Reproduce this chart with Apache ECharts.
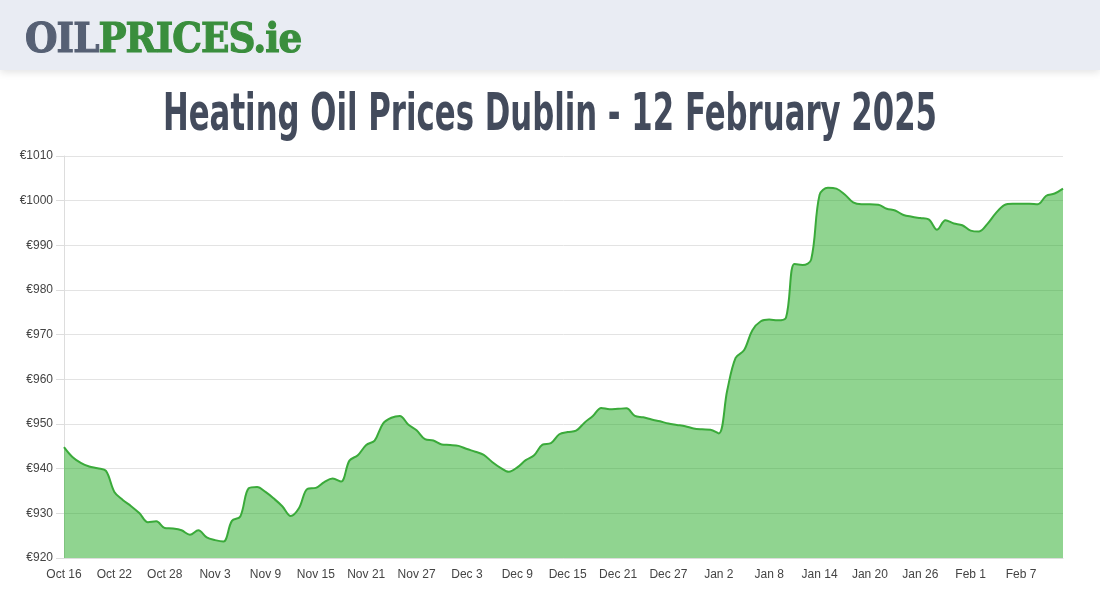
<!DOCTYPE html>
<html>
<head>
<meta charset="utf-8">
<script src="https://cdn.jsdelivr.net/npm/echarts@6/dist/echarts.min.js"></script>
<style>
  html, body { margin: 0; padding: 0; background: #ffffff; }
  #header {
    position: absolute; left: 0; top: 0; width: 1100px; height: 70px;
    background: #e9ecf3; box-shadow: 0 2px 8px rgba(0,0,0,0.12); z-index: 2;
  }
  #logo {
    position: absolute; left: 25px; top: 18px;
    font-family: "DejaVu Serif", serif; font-weight: bold; font-size: 41px;
    letter-spacing: -1px; line-height: 41px; white-space: nowrap;
    transform-origin: left center; transform: scaleX(0.91);
    -webkit-text-stroke: 1.2px currentColor;
  }
  #logo .a { color: #566074; }
  #logo .b { color: #3a8e3d; }
  #chart { position: absolute; left: 0; top: 0; width: 1100px; height: 600px; z-index: 1; }
</style>
</head>
<body>
<div id="chart"></div>
<div id="header"><div id="logo"><span class="a">OIL</span><span class="b">PRICES.ie</span></div></div>
<script>
const titleText = "Heating Oil Prices Dublin - 12 February 2025";

const dates = [
  "Oct 16","Oct 17","Oct 18","Oct 19","Oct 20","Oct 21","Oct 22","Oct 23","Oct 24","Oct 25","Oct 26","Oct 27","Oct 28","Oct 29","Oct 30","Oct 31",
  "Nov 1","Nov 2","Nov 3","Nov 4","Nov 5","Nov 6","Nov 7","Nov 8","Nov 9","Nov 10","Nov 11","Nov 12","Nov 13","Nov 14","Nov 15","Nov 16","Nov 17","Nov 18","Nov 19","Nov 20","Nov 21","Nov 22","Nov 23","Nov 24","Nov 25","Nov 26","Nov 27","Nov 28","Nov 29","Nov 30",
  "Dec 1","Dec 2","Dec 3","Dec 4","Dec 5","Dec 6","Dec 7","Dec 8","Dec 9","Dec 10","Dec 11","Dec 12","Dec 13","Dec 14","Dec 15","Dec 16","Dec 17","Dec 18","Dec 19","Dec 20","Dec 21","Dec 22","Dec 23","Dec 24","Dec 25","Dec 26","Dec 27","Dec 28","Dec 29","Dec 30","Dec 31",
  "Jan 1","Jan 2","Jan 3","Jan 4","Jan 5","Jan 6","Jan 7","Jan 8","Jan 9","Jan 10","Jan 11","Jan 12","Jan 13","Jan 14","Jan 15","Jan 16","Jan 17","Jan 18","Jan 19","Jan 20","Jan 21","Jan 22","Jan 23","Jan 24","Jan 25","Jan 26","Jan 27","Jan 28","Jan 29","Jan 30","Jan 31",
  "Feb 1","Feb 2","Feb 3","Feb 4","Feb 5","Feb 6","Feb 7","Feb 8","Feb 9","Feb 10","Feb 11","Feb 12"
];

const prices = [
  944.8, 942.6, 941.3, 940.5, 940.1, 939.5, 934.8, 933.0, 931.6, 930.0,
  928.0, 928.2, 926.7, 926.6, 926.2, 925.2, 926.2, 924.6, 924.0, 923.7,
  928.3, 929.3, 935.6, 935.9, 934.8, 933.3, 931.6, 929.4, 931.2, 935.5,
  935.7, 937.0, 937.8, 937.1, 941.8, 943.0, 945.3, 946.3, 950.1, 951.4,
  951.8, 949.9, 948.6, 946.6, 946.3, 945.4, 945.3, 945.1, 944.4, 943.8,
  943.1, 941.5, 940.2, 939.3, 940.3, 941.9, 943.0, 945.4, 945.7, 947.7,
  948.2, 948.5, 950.3, 951.8, 953.6, 953.3, 953.4, 953.5, 951.8, 951.5,
  951.0, 950.6, 950.1, 949.8, 949.5, 949.0, 948.8, 948.7, 947.9, 957.5,
  964.8, 966.5, 971.0, 973.0, 973.4, 973.2, 973.8, 985.8, 985.6, 986.8,
  1001.3, 1002.9, 1002.7, 1001.4, 999.6, 999.2, 999.2, 999.1, 998.2, 997.8,
  996.8, 996.4, 996.1, 995.8, 993.5, 995.6, 994.9, 994.5, 993.3, 993.1,
  994.8, 997.2, 999.0, 999.3, 999.3, 999.3, 999.2, 1001.1, 1001.6, 1002.7
];

const yMin = 920, yMax = 1010, yStep = 10;

// title: condensed look obtained by horizontal scaling to the reference width
const titleFont = 'bold 52px "DejaVu Sans", sans-serif';
const mctx = document.createElement('canvas').getContext('2d');
mctx.font = titleFont;
const titleScale = 774 / mctx.measureText(titleText).width;

const chart = echarts.init(document.getElementById('chart'), null, { renderer: 'canvas' });
chart.setOption({
  animation: false,
  backgroundColor: '#ffffff',
  graphic: [{
    type: 'text',
    x: 550,
    y: 116,
    scaleX: titleScale,
    scaleY: 1,
    style: {
      text: titleText,
      font: titleFont,
      fill: '#434b5c',
      align: 'center',
      verticalAlign: 'middle'
    }
  }],
  grid: { left: 64, right: 37, top: 156, bottom: 42 },
  xAxis: {
    type: 'category',
    data: dates,
    boundaryGap: false,
    axisLine: { show: true, lineStyle: { color: '#dddddd' } },
    axisTick: { show: false },
    axisLabel: {
      interval: 5,
      color: '#444444',
      fontFamily: '"Liberation Sans", Arial, sans-serif',
      fontSize: 12,
      margin: 11
    },
    splitLine: { show: false }
  },
  yAxis: {
    type: 'value',
    min: yMin, max: yMax, interval: yStep,
    axisLine: { show: true, lineStyle: { color: '#dddddd' } },
    axisTick: { show: true, length: 8, lineStyle: { color: '#dddddd' } },
    axisLabel: {
      formatter: v => '€' + v,
      color: '#444444',
      fontFamily: '"Liberation Sans", Arial, sans-serif',
      fontSize: 12,
      margin: 11
    },
    splitLine: { show: true, lineStyle: { color: '#e3e3e3', width: 1 } }
  },
  series: [{
    type: 'line',
    data: prices,
    smooth: 0.35,
    symbol: 'none',
    lineStyle: { color: '#3aaa3a', width: 2 },
    areaStyle: { color: 'rgb(34,170,34)', opacity: 0.5 }
  }]
});
</script>
</body>
</html>
